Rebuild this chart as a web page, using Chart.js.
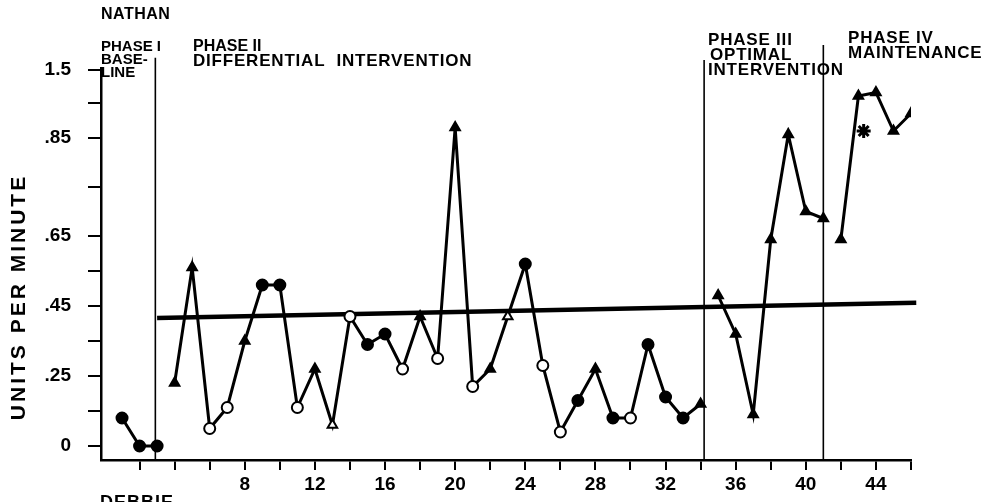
<!DOCTYPE html>
<html>
<head>
<meta charset="utf-8">
<script src="https://cdn.jsdelivr.net/npm/chart.js@4.4.0/dist/chart.umd.min.js"></script>
<style>
  html, body { margin: 0; padding: 0; background: #fff; }
  #wrap { width: 997px; height: 502px; }
</style>
</head>
<body>
<div id="wrap"><canvas id="mycanvas" width="997" height="502"></canvas></div>
<script>
// sessions and rate (units per minute)
var sessions = [1,2,3,4,5,6,7,8,9,10,11,12,13,14,15,16,17,18,19,20,21,22,23,24,25,26,27,28,29,30,31,32,33,34,35,36,37,38,39,40,41,42,43,44,45,46];
var rate = [0.13,0.05,0.05,
  0.23,0.56,0.10,0.16,0.35,0.51,0.51,0.16,0.27,0.11,0.42,0.34,0.37,0.27,0.42,0.30,0.96,0.22,0.27,0.42,0.57,0.28,0.09,0.18,0.27,0.13,0.13,0.34,0.19,0.13,0.17,
  0.48,0.37,0.14,0.64,0.94,0.72,0.70,
  0.64,1.05,1.06,0.95,1.00];
// c = filled circle, o = open circle, t = filled triangle, v = open triangle
var marker = ['c','c','c',
  't','t','o','o','t','c','c','o','t','v','o','c','c','o','t','o','t','o','t','v','c','o','o','c','t','c','o','c','c','c','t',
  't','t','t','t','t','t','t',
  't','t','t','t','t'];
var phaseOf = [0,0,0,
  1,1,1,1,1,1,1,1,1,1,1,1,1,1,1,1,1,1,1,1,1,1,1,1,1,1,1,1,1,1,1,
  2,2,2,2,2,2,2,
  3,3,3,3,3];

var starX = [43.3];
var starY = [0.95];

var trendX = [3.0, 46.3];
var trendY = [0.416, 0.459];

var phaseLineX = [2.9, 34.2, 41.0];
var phaseLineTop = [1.159, 1.153, 1.196];

// the printed scale is uneven above .65
var yTickVals = [0.05,0.15,0.25,0.35,0.45,0.55,0.65,0.79,0.93,1.03,1.124];
var yLabelVals = [0.05,0.25,0.45,0.65,0.93,1.124];
var yLabelText = ['0','.25','.45','.65','.85','1.5'];
var xTickVals = [2,4,6,8,10,12,14,16,18,20,22,24,26,28,30,32,34,36,38,40,42,44,46];
var xLabelVals = [8,12,16,20,24,28,32,36,40,44];

var yMin = 0.01, yMax = 1.13;

var datasets = [];
for (var p = 0; p < 4; p++) {
	var pts = [], styles = [], fills = [];
	for (var i in sessions) {
		if (phaseOf[i] != p) continue;
		pts.push({x: sessions[i], y: rate[i]});
		styles.push(marker[i] == 'c' || marker[i] == 'o' ? 'circle' : 'triangle');
		fills.push(marker[i] == 'o' || marker[i] == 'v' ? '#fff' : '#000');
	}
	datasets.push({
		data: pts,
		showLine: true,
		borderColor: '#000',
		borderWidth: 3,
		pointStyle: styles,
		pointRadius: 5.5,
		pointBackgroundColor: fills,
		pointBorderColor: '#000',
		pointBorderWidth: 2
	});
}
datasets.push({
	data: starX.map(function(x, i){ return {x: x, y: starY[i]}; }),
	showLine: false,
	pointStyle: 'star',
	pointRadius: 7,
	pointBorderWidth: 3,
	pointBorderColor: '#000'
});
datasets.push({
	data: trendX.map(function(x, i){ return {x: x, y: trendY[i]}; }),
	showLine: true,
	borderColor: '#000',
	borderWidth: 4.5,
	pointRadius: 0,
	clip: false
});
for (var k in phaseLineX) {
	datasets.push({
		data: [{x: phaseLineX[k], y: yMin}, {x: phaseLineX[k], y: phaseLineTop[k]}],
		showLine: true,
		borderColor: '#000',
		borderWidth: 1.6,
		pointRadius: 0,
		clip: false
	});
}

var font = "'Liberation Sans', Arial, sans-serif";

var labelsPlugin = {
	id: 'labels',
	afterDraw: function(chart) {
		var ctx = chart.ctx;
		ctx.save();
		ctx.fillStyle = '#000';
		ctx.textBaseline = 'middle';
		ctx.textAlign = 'left';
		ctx.font = 'bold 16px ' + font;
		ctx.letterSpacing = '0.5px';
		ctx.fillText('NATHAN', 101, 15);
		ctx.font = 'bold 15px ' + font;
		ctx.letterSpacing = '0px';
		ctx.fillText('PHASE I', 101, 47);
		ctx.fillText('BASE-', 101, 60);
		ctx.fillText('LINE', 101, 73);
		ctx.font = 'bold 16px ' + font;
		ctx.fillText('PHASE II', 193, 47);
		ctx.font = 'bold 17px ' + font;
		ctx.letterSpacing = '0.8px';
		var lines = [
			['DIFFERENTIAL  INTERVENTION', 193, 61],
			['PHASE III', 708, 40], ['OPTIMAL', 710, 55], ['INTERVENTION', 708, 70],
			['PHASE IV', 848, 38], ['MAINTENANCE', 848, 53]
		];
		lines.forEach(function(l){ ctx.fillText(l[0], l[1], l[2]); });
		ctx.font = 'bold 18px ' + font;
		ctx.letterSpacing = '1px';
		ctx.textBaseline = 'top';
		ctx.fillText('DEBBIE', 100, 494);
		ctx.translate(19, 297);
		ctx.rotate(-Math.PI / 2);
		ctx.textAlign = 'center';
		ctx.textBaseline = 'middle';
		ctx.font = 'bold 21px ' + font;
		ctx.letterSpacing = '3px';
		ctx.fillText('UNITS PER MINUTE', 0, 0);
		ctx.restore();
	}
};

var ctx = document.getElementById('mycanvas');
var chart = new Chart(ctx, {
	type: 'scatter',
	data: { datasets: datasets },
	options: {
		responsive: false,
		animation: false,
		layout: { padding: { top: 68, right: 86, left: 0, bottom: 0 } },
		plugins: { legend: { display: false }, tooltip: { enabled: false } },
		scales: {
			x: {
				type: 'linear',
				min: -0.2,
				max: 46,
				afterFit: function(scale) { scale.height = 42; },
				afterBuildTicks: function(scale) {
					scale.ticks = xTickVals.map(function(v){ return {value: v}; });
				},
				ticks: {
					autoSkip: false,
					maxRotation: 0,
					padding: 3,
					color: '#000',
					font: { family: font, size: 19, weight: 'bold' },
					callback: function(v) { return xLabelVals.indexOf(v) >= 0 ? String(v) : ''; }
				},
				grid: { drawOnChartArea: false, drawTicks: true, tickLength: 10, color: '#000', lineWidth: 2 },
				border: { display: true, color: '#000', width: 2.5 }
			},
			y: {
				type: 'linear',
				min: yMin,
				max: yMax,
				afterFit: function(scale) { scale.width = 101; },
				afterBuildTicks: function(scale) {
					scale.ticks = yTickVals.map(function(v){ return {value: v}; });
				},
				ticks: {
					autoSkip: false,
					padding: 17,
					color: '#000',
					font: { family: font, size: 19, weight: 'bold' },
					callback: function(v) {
						for (var j in yLabelVals) {
							if (Math.abs(yLabelVals[j] - v) < 0.001) return yLabelText[j];
						}
						return '';
					}
				},
				grid: { drawOnChartArea: false, drawTicks: true, tickLength: 13, color: '#000', lineWidth: 2 },
				border: { display: true, color: '#000', width: 2.5 }
			}
		}
	},
	plugins: [labelsPlugin]
});
</script>
</body>
</html>
